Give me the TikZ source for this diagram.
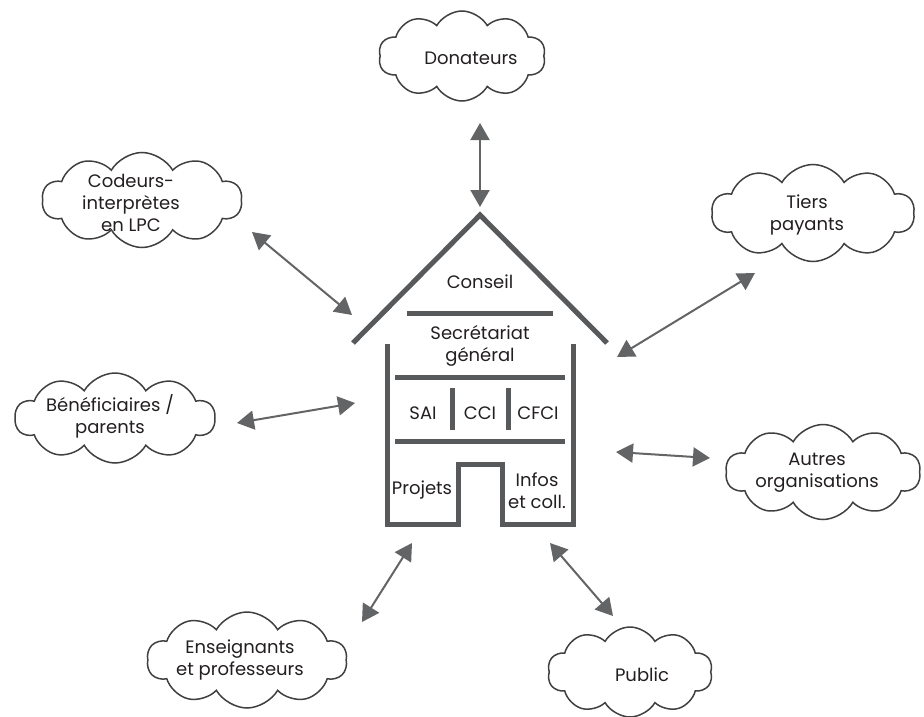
\documentclass[tikz,border=0pt]{standalone}
\usepackage{fontspec}
\setmainfont{Poppins}
\usetikzlibrary{shapes.symbols,arrows.meta}
\definecolor{housegray}{HTML}{58595B}
\definecolor{arrgray}{HTML}{636466}
\definecolor{cloudline}{HTML}{404040}
\definecolor{txt}{HTML}{231F20}
\tikzset{
  cloudbox/.style={cloud, cloud puffs=10, cloud puff arc=120, cloud ignores aspect,
     draw=cloudline, line width=1.5pt, fill=white, inner sep=0pt},
  lbl/.style={text=txt, font=\fontsize{18}{22}\selectfont, align=center, inner sep=0pt},
  biarrow/.style={draw=arrgray, line width=2pt,
     {Triangle[length=17pt,width=19pt]}-{Triangle[length=17pt,width=19pt]}},
  wall/.style={draw=housegray, line width=5pt, line join=miter},
  floorline/.style={draw=housegray, line width=5pt}
}
\begin{document}
\begin{tikzpicture}[x=1pt,y=-1pt]
\useasboundingbox (0,0) rectangle (924,717);
% clouds
\node[cloudbox, minimum width=167pt, minimum height=90pt] (cDon) at (462,56) {};
\node[lbl] (tDon) at (471,58) {Donateurs};
\node[cloudbox, minimum width=200pt, minimum height=95pt] (cCod) at (142,200) {};
\node[lbl] (tCod) at (131,203) {Codeurs-\\interprètes\\en LPC};
\node[cloudbox, minimum width=203pt, minimum height=97pt] (cTie) at (813,213) {};
\node[lbl] (tTie) at (807,215) {Tiers\\payants};
\node[cloudbox, minimum width=200pt, minimum height=90pt] (cBen) at (115,418) {};
\node[lbl] (tBen) at (110,416) {Bénéficiaires /\\parents};
\node[cloudbox, minimum width=195pt, minimum height=95pt] (cAut) at (823,472) {};
\node[lbl] (tAut) at (817,473) {Autres\\organisations};
\node[cloudbox, minimum width=200pt, minimum height=96pt] (cEns) at (247,660) {};
\node[lbl] (tEns) at (240,660) {Enseignants\\et professeurs};
\node[cloudbox, minimum width=165pt, minimum height=90pt] (cPub) at (630,672) {};
\node[lbl] (tPub) at (642,675) {Public};
% house
\coordinate (rL) at (353,343);
\coordinate (rT) at (480,215);
\coordinate (rR) at (607,343);
\draw[wall] (rL) -- (rT) -- (rR);
\coordinate (wLt) at (387,344);
\coordinate (wRt) at (573,344);
\draw[wall] (wLt) -- (387,524) -- (458,524) -- (458,464) -- (502,464) -- (502,524) -- (573,524) -- (wRt);
\draw[floorline] (407,313) -- (553,313);
\draw[floorline] (395,377) -- (565,377);
\draw[floorline] (395,441) -- (565,441);
\draw[floorline] (452,388) -- (452,430);
\draw[floorline] (508,388) -- (508,430);
\node[lbl] (hCon) at (480,282) {Conseil};
\node[lbl] (hSec) at (480,346) {Secrétariat\\général};
\node[lbl] (hSAI) at (423,413) {SAI};
\node[lbl] (hCCI) at (480,413) {CCI};
\node[lbl] (hCFCI) at (538,413) {CFCI};
\node[lbl] (hPro) at (422,490) {Projets};
\node[lbl] (hInf) at (537,491) {Infos\\et coll.};
% arrow end points
\coordinate (aDon1) at (480,123); \coordinate (aDon2) at (480,207);
\coordinate (aCod1) at (252,232); \coordinate (aCod2) at (352,315);
\coordinate (aTie1) at (755,273); \coordinate (aTie2) at (617,357);
\coordinate (aBen1) at (237,423); \coordinate (aBen2) at (355,403);
\coordinate (aAut1) at (616,452); \coordinate (aAut2) at (710,458);
\coordinate (aEns1) at (412,543); \coordinate (aEns2) at (362,622);
\coordinate (aPub1) at (550,543); \coordinate (aPub2) at (613,616);
\draw[biarrow] (aDon1) -- (aDon2);
\draw[biarrow] (aCod1) -- (aCod2);
\draw[biarrow] (aTie1) -- (aTie2);
\draw[biarrow] (aBen1) -- (aBen2);
\draw[biarrow] (aAut1) -- (aAut2);
\draw[biarrow] (aEns1) -- (aEns2);
\draw[biarrow] (aPub1) -- (aPub2);
\end{tikzpicture}
\end{document}
